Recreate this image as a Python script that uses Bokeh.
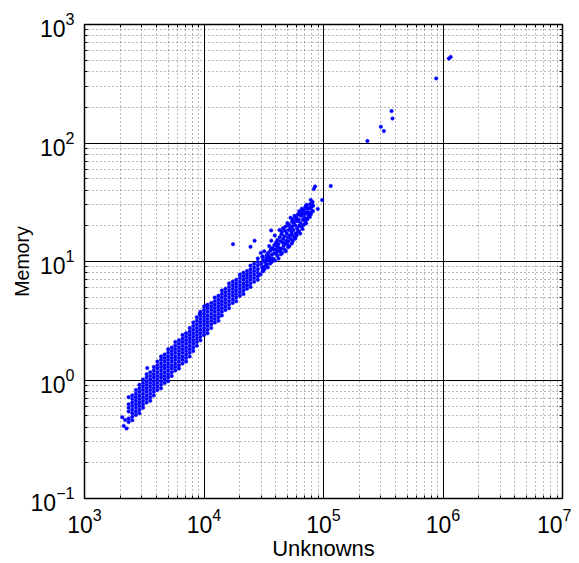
from bokeh.plotting import figure
from bokeh.models import Range1d, FixedTicker, LogAxis, CustomJSTickFormatter
from bokeh.embed import file_html
from bokeh.resources import INLINE

# ---- axis ticks ----
x_ticks = [1e3, 1e4, 1e5, 1e6, 1e7]
y_ticks = [1e-1, 1e0, 1e1, 1e2, 1e3]
mantissas = [2, 3, 4, 5, 6, 7, 8, 9]

# ---- dense part of the band: unknowns (column) and memory values ----
dense_x = [2340, 2510, 2690, 2880, 3090, 3310, 3550, 3800, 4070, 4370, 4680, 5010,
           5370, 5750, 6170, 6610, 7080, 7590, 8130, 8710, 9330, 10000, 10700, 11500,
           12300, 13200, 14100, 15100, 16200, 17400, 18600, 19950, 21400, 22900, 24500,
           26300, 28200]
dense_y = [
    [0.442, 0.473, 0.543, 0.582, 0.624, 0.716],
    [0.457, 0.490, 0.525, 0.562, 0.603, 0.646, 0.692, 0.741],
    [0.507, 0.543, 0.582, 0.624, 0.668, 0.716, 0.767, 0.822],
    [0.525, 0.562, 0.603, 0.646, 0.692, 0.741, 0.794, 0.851, 0.912],
    [0.582, 0.624, 0.668, 0.716, 0.767, 0.822, 0.881, 0.944, 1.01],
    [0.646, 0.692, 0.741, 0.794, 0.851, 0.912, 0.977, 1.05, 1.12],
    [0.668, 0.716, 0.767, 0.822, 0.881, 0.944, 1.01, 1.08, 1.16],
    [0.741, 0.794, 0.851, 0.912, 0.977, 1.05, 1.12, 1.20, 1.29],
    [0.822, 0.881, 0.944, 1.01, 1.08, 1.16, 1.25, 1.33, 1.43],
    [0.851, 0.912, 0.977, 1.05, 1.12, 1.20, 1.29, 1.38, 1.48, 1.58],
    [0.944, 1.01, 1.08, 1.16, 1.25, 1.33, 1.43, 1.53, 1.64],
    [0.977, 1.05, 1.12, 1.20, 1.29, 1.38, 1.48, 1.58, 1.70, 1.82],
    [1.08, 1.16, 1.25, 1.33, 1.43, 1.53, 1.64, 1.76, 1.88],
    [1.20, 1.29, 1.38, 1.48, 1.58, 1.70, 1.82, 1.95, 2.09],
    [1.25, 1.33, 1.43, 1.53, 1.64, 1.76, 1.88, 2.02, 2.16],
    [1.38, 1.48, 1.58, 1.70, 1.82, 1.95, 2.09, 2.24, 2.40],
    [1.43, 1.53, 1.64, 1.76, 1.88, 2.02, 2.16, 2.32, 2.48],
    [1.58, 1.70, 1.82, 1.95, 2.09, 2.24, 2.40, 2.57, 2.75],
    [1.76, 1.88, 2.02, 2.16, 2.32, 2.48, 2.66, 2.85, 3.06],
    [1.95, 2.09, 2.24, 2.40, 2.57, 2.75, 2.95, 3.16, 3.39],
    [2.16, 2.32, 2.48, 2.66, 2.85, 3.06, 3.27, 3.51, 3.76],
    [2.40, 2.57, 2.75, 2.95, 3.16, 3.39, 3.63, 3.89, 4.17],
    [2.48, 2.66, 2.85, 3.06, 3.27, 3.51, 3.76, 4.03, 4.32],
    [2.75, 2.95, 3.16, 3.39, 3.63, 3.89, 4.17, 4.47],
    [3.06, 3.27, 3.51, 3.76, 4.03, 4.32, 4.62, 4.96],
    [3.16, 3.39, 3.63, 3.89, 4.17, 4.47, 4.79, 5.13],
    [3.51, 3.76, 4.03, 4.32, 4.62, 4.96, 5.31, 5.69],
    [3.89, 4.17, 4.47, 4.79, 5.13, 5.50, 5.89],
    [4.03, 4.32, 4.62, 4.96, 5.31, 5.69, 6.10, 6.53],
    [4.47, 4.79, 5.13, 5.50, 5.89, 6.31, 6.76],
    [4.62, 4.96, 5.31, 5.69, 6.10, 6.53, 7.00],
    [5.13, 5.50, 5.89, 6.31, 6.76, 7.24, 7.76],
    [5.31, 5.69, 6.10, 6.53, 7.00, 7.50, 8.04],
    [5.89, 6.31, 6.76, 7.24, 7.76, 8.32],
    [6.10, 6.53, 7.00, 7.50, 8.04, 8.61, 9.23],
    [6.76, 7.24, 7.76, 8.32, 8.91, 9.55],
    [7.00, 7.50, 8.04, 8.61, 9.23, 9.89, 10.6],
]

# ---- sparser upper part of the band ----
sparse_x = [29800, 30600, 30100, 31000, 29900,
            32000, 32900, 32300, 33100, 31900,
            34200, 35300, 34800, 34400, 35100,
            36800, 37700, 36900, 37500, 36600,
            39300, 40400, 39600, 40100, 39100,
            42100, 43300, 42500, 41900, 43000, 42800,
            45100, 46300, 45500, 46000, 44900, 45800,
            48400, 49600, 48800, 49300, 48100, 49900,
            51800, 53200, 52300, 52900, 51500, 53000,
            55500, 56900, 56000, 56600, 55200, 57200,
            59600, 61000, 60100, 60700, 59300, 61300,
            63800, 65400, 64200, 65000, 63500, 65800,
            68400, 70000, 68900, 69600, 68200, 70300,
            73300, 74900, 73700, 74500, 72900,
            78500, 80300, 79000, 79900, 78200]
sparse_y = [7.76, 8.91, 9.55, 11.0, 11.8,
            8.61, 9.23, 9.89, 10.6, 12.2,
            8.91, 10.2, 11.0, 11.8, 13.5,
            9.89, 10.6, 11.4, 13.0, 15.0,
            10.2, 11.8, 12.6, 14.5, 16.6,
            10.6, 12.2, 13.0, 14.0, 16.0, 18.4,
            11.8, 13.5, 14.5, 15.5, 17.8, 19.1,
            12.2, 14.0, 15.0, 17.2, 19.7, 21.1,
            13.5, 15.5, 16.6, 19.1, 20.4, 23.4,
            15.0, 16.0, 18.4, 21.1, 22.7, 24.3,
            16.6, 17.8, 19.1, 21.9, 23.4, 25.1,
            17.2, 19.7, 21.1, 24.3, 26.0, 27.9,
            20.4, 21.9, 23.4, 25.1, 26.9, 28.8,
            22.7, 24.3, 26.0, 27.9, 29.9,
            25.1, 26.9, 28.8, 30.9, 33.1]

# ---- more points in between, upper part of the band ----
mid_x = [31300, 31500, 31200, 30800,
         33600, 33800, 33400,
         35800, 36100, 35900, 36300,
         38300, 38600, 38100, 38800,
         41000, 41400, 40800, 41200,
         44000, 44300, 43800, 44500,
         47200, 47500, 47000, 47800,
         50600, 50900, 50300, 51100, 50800,
         54300, 54600, 54000, 54900, 54500,
         58200, 58500, 58000, 58800, 58400,
         62400, 62700, 62100, 63000, 62600,
         66800, 67100, 66600, 67300,
         71600, 71900, 71400, 72100, 71800,
         76700, 77000, 76500, 77200,
         81500, 82000, 81000]
mid_y = [8.3, 9.0, 10.2, 10.9,
         9.5, 10.4, 11.3,
         9.6, 10.6, 12.3, 12.8,
         10.4, 11.7, 12.6, 13.8,
         11.2, 12.3, 13.4, 15.2,
         11.5, 12.8, 14.8, 17.0,
         12.6, 14.2, 16.3, 18.2,
         13.2, 14.8, 16.0, 18.4, 20.1,
         14.2, 16.8, 17.7, 19.8, 21.7,
         15.6, 17.2, 20.2, 22.3, 23.9,
         18.1, 20.0, 22.6, 24.8, 26.5,
         18.8, 22.5, 25.3, 27.0,
         21.0, 23.0, 25.8, 28.0, 30.0,
         23.8, 25.6, 28.2, 30.4,
         26.5, 29.5, 31.8]

# ---- isolated points ----
out_x = [2130, 2250, 2070, 2190, 3350, 9200, 10600, 17500, 24500, 26500, 30900, 36500,
         83000, 85000, 89500, 97500, 115000, 233000, 302000, 320000, 371000, 378000,
         877000, 1120000, 1160000]
out_y = [0.41, 0.39, 0.485, 0.46, 1.26, 3.62, 4.26, 14.0, 13.3, 15.0, 8.3, 18.3,
         41.0, 43.0, 27.8, 33.0, 43.4, 104, 137, 126, 186, 161,
         351, 516, 533]

xs = [x for x, col in zip(dense_x, dense_y) for _ in col] + sparse_x + mid_x + out_x
ys = [y for col in dense_y for y in col] + sparse_y + mid_y + out_y

x_minor = [m * t for t in x_ticks[:-1] for m in mantissas]
y_minor = [m * t for t in y_ticks[:-1] for m in mantissas]

FONT = "Liberation Sans"

p = figure(width=571, height=563, x_axis_type="log", y_axis_type="log",
           x_range=Range1d(x_ticks[0], x_ticks[-1]), y_range=Range1d(y_ticks[0], y_ticks[-1]),
           output_backend="svg", toolbar_location=None,
           min_border_left=84, min_border_right=9, min_border_top=24, min_border_bottom=61)
p.background_fill_color = "white"
p.border_fill_color = "white"
p.outline_line_color = "black"
p.outline_line_width = 1.5

xt = FixedTicker(ticks=x_ticks, minor_ticks=x_minor)
yt = FixedTicker(ticks=y_ticks, minor_ticks=y_minor)

p.xaxis.ticker = xt
p.yaxis.ticker = yt
p.xgrid.ticker = xt
p.ygrid.ticker = yt

for g in (p.xgrid, p.ygrid):
    g.grid_line_color = "black"
    g.grid_line_width = 1
    g.grid_line_alpha = 1
    g.minor_grid_line_color = "black"
    g.minor_grid_line_alpha = 0.55
    g.minor_grid_line_dash = "1 3"
    g.minor_grid_line_width = 1

for ax in (p.xaxis, p.yaxis):
    ax.axis_line_color = None
    ax.major_tick_in = 6
    ax.major_tick_out = 0
    ax.minor_tick_in = 3
    ax.minor_tick_out = 0
    ax.major_tick_line_color = "black"
    ax.minor_tick_line_color = "black"
    ax.major_label_text_font = FONT
    ax.major_label_text_font_size = "23px"
    ax.major_label_text_color = "black"
    ax.axis_label_text_font = FONT
    ax.axis_label_text_font_style = "normal"
    ax.axis_label_text_color = "black"

p.xaxis.axis_label = "Unknowns"
p.xaxis.axis_label_text_font_size = "22px"
p.xaxis.major_label_standoff = 9
p.xaxis.axis_label_standoff = 0

p.yaxis.axis_label = "Memory"
p.yaxis.axis_label_text_font_size = "19.5px"
p.yaxis.major_label_standoff = 10
p.yaxis.axis_label_standoff = -5

blank = CustomJSTickFormatter(code="return ''")
for loc, tk in (("above", xt), ("right", yt)):
    ax = LogAxis(ticker=tk, formatter=blank, axis_line_color=None,
                 major_tick_in=6, major_tick_out=0, minor_tick_in=3, minor_tick_out=0,
                 major_tick_line_color="black", minor_tick_line_color="black",
                 major_label_standoff=0, major_label_text_font_size="0px")
    p.add_layout(ax, loc)

p.scatter(xs, ys, marker="circle", size=3.5, fill_color="#0000ff",
          line_color="#0000ff", line_width=0.5)

open("out.html", "w").write(file_html(p, INLINE))
